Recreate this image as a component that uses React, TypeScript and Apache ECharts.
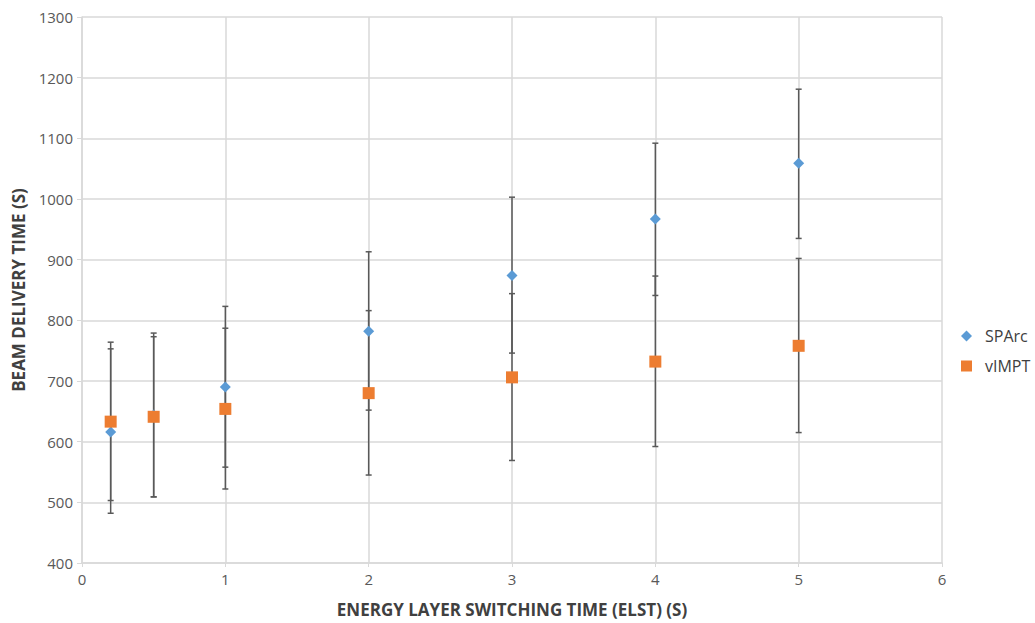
import React, { useEffect, useRef } from "react";
import * as echarts from "echarts";

const elst = [0.2, 0.5, 1, 2, 3, 4, 5];
const sparc = [616, 644, 690, 782, 874, 967, 1059];
const sparcLow = [482, 509, 558, 652, 746, 841, 935];
const sparcHigh = [753, 779, 823, 913, 1003, 1092, 1181];
const vimpt = [633, 641, 654, 680, 706, 732, 758];
const vimptLow = [503, 509, 522, 545, 569, 592, 615];
const vimptHigh = [764, 773, 787, 816, 844, 873, 902];
const xTicks = { min: 0, max: 6, interval: 1 };
const yTicks = { min: 400, max: 1300, interval: 100 };

const FONT = "'Open Sans', 'Liberation Sans', sans-serif";

export default function App() {
  const ref = useRef<HTMLDivElement>(null);
  useEffect(() => {
    if (!ref.current) return;
    const chart = echarts.init(ref.current, undefined, { renderer: "svg" });
    const errData: number[][] = [];
    elst.forEach((x, i) => {
      errData.push([x, sparcLow[i], sparcHigh[i]]);
      errData.push([x, vimptLow[i], vimptHigh[i]]);
    });
    const renderItem = (params: any, api: any) => {
      const x = api.value(0);
      const lo = api.coord([x, api.value(1)]);
      const hi = api.coord([x, api.value(2)]);
      const w = 3;
      const style = { stroke: "#595959", lineWidth: 1.5 };
      return {
        type: "group",
        children: [
          { type: "line", shape: { x1: lo[0], y1: lo[1], x2: hi[0], y2: hi[1] }, style },
          { type: "line", shape: { x1: lo[0] - w, y1: lo[1], x2: lo[0] + w, y2: lo[1] }, style },
          { type: "line", shape: { x1: hi[0] - w, y1: hi[1], x2: hi[0] + w, y2: hi[1] }, style },
        ],
      };
    };
    chart.setOption({
      animation: false,
      textStyle: { fontFamily: FONT },
      grid: { left: 82, right: 93, top: 17, bottom: 48, containLabel: false },
      legend: {
        data: [
          { name: "SPArc", icon: "diamond" },
          { name: "vIMPT", icon: "rect" },
        ],
        orient: "vertical",
        left: 956,
        top: 323,
        itemWidth: 11,
        itemHeight: 11,
        itemGap: 14,
        textStyle: { fontSize: 16, color: "#404040", fontFamily: FONT, padding: [0, 0, 0, 8] },
      },
      xAxis: {
        type: "value",
        ...xTicks,
        name: "ENERGY LAYER SWITCHING TIME (ELST) (S)",
        nameLocation: "middle",
        nameGap: 38,
        nameTextStyle: { fontSize: 17, fontWeight: "bold", color: "#404040", fontFamily: FONT },
        axisLine: { show: true, lineStyle: { color: "#D9D9D9", width: 1.5 } },
        axisTick: { show: true, length: 4, lineStyle: { color: "#D9D9D9" } },
        axisLabel: { fontSize: 15, color: "#595959", margin: 8, fontFamily: FONT },
        splitLine: { show: true, lineStyle: { color: "#D9D9D9", width: 1.5 } },
      },
      yAxis: {
        type: "value",
        ...yTicks,
        name: "BEAM DELIVERY TIME (S)",
        nameLocation: "middle",
        nameGap: 55,
        nameRotate: 90,
        nameTextStyle: { fontSize: 17, fontWeight: "bold", color: "#404040", fontFamily: FONT },
        axisLine: { show: true, lineStyle: { color: "#D9D9D9", width: 1.5 } },
        axisTick: { show: true, length: 5, lineStyle: { color: "#D9D9D9" } },
        axisLabel: { fontSize: 15, color: "#595959", margin: 9, fontFamily: FONT, formatter: (v: number) => String(v) },
        splitLine: { show: true, lineStyle: { color: "#D9D9D9", width: 1.5 } },
      },
      series: [
        {
          name: "err",
          type: "custom",
          renderItem,
          data: errData,
          encode: { x: 0, y: [1, 2] },
          z: 1,
          silent: true,
        },
        {
          name: "SPArc",
          type: "scatter",
          symbol: "diamond",
          symbolSize: 11,
          itemStyle: { color: "#5B9BD5", opacity: 1 },
          data: elst.map((x, i) => [x, sparc[i]]),
          z: 3,
        },
        {
          name: "vIMPT",
          type: "scatter",
          symbol: "rect",
          symbolSize: 12,
          itemStyle: { color: "#ED7D31", opacity: 1 },
          data: elst.map((x, i) => [x, vimpt[i]]),
          z: 4,
        },
      ],
    });
    return () => chart.dispose();
  }, []);
  return <div ref={ref} style={{ width: 1035, height: 623, position: "absolute", left: 0, top: 0 }} />;
}
